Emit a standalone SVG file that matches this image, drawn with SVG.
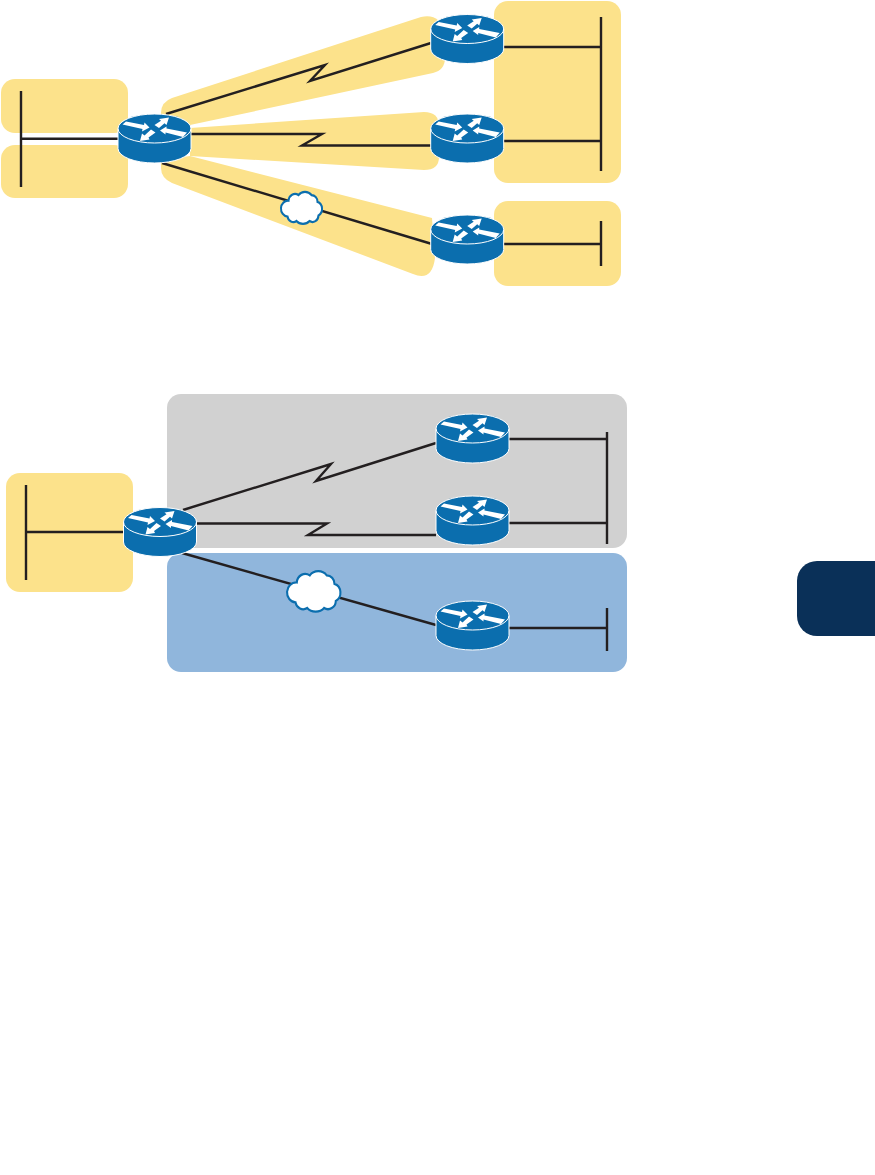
<svg xmlns="http://www.w3.org/2000/svg" width="875" height="1175" viewBox="0 0 875 1175">
<style>
.y{fill:#fce28b}
.l{fill:none;stroke:#231f20;stroke-width:2.400;stroke-linejoin:miter}
.c{fill:#fff;stroke:#0b6eae;stroke-width:2}
</style>
<defs>
<g id="router">
<path d="M0,14.500 A36.500,14.500 0 0 1 73,14.500 V34.500 A36.500,14.500 0 0 1 0,34.500 Z" fill="#0b6eae" stroke="#fff" stroke-width="1"/>
<path d="M0,14.500 A36.500,14.500 0 0 0 73,14.500" fill="none" stroke="#fff" stroke-width="1"/>
<g fill="#fff">
<polygon points="4.500,10.500 8,7.500 26,11 26.500,8.500 31.500,13.500 24,17.500 24.500,15"/>
<polygon points="36.500,11 43,6.800 41,5 51,3.500 48.500,11 46.500,9.200 41,14"/>
<polygon points="42,16.500 48.500,12.500 48.500,14.500 69,18.500 65,23 47.500,18.500 47.500,20.500"/>
<polygon points="22,27 24,19.500 26.500,21.500 33,15.500 37.500,18.500 30.500,23.500 31.500,25.500"/>
</g>
</g>
<path id="cloud" d="M-14,-6 A6.500,6.500 0 0 1 -4,-11 A8,7 0 0 1 9,-11 A6,6 0 0 1 15,-5 A6.500,6.500 0 0 1 16,7 A6,6 0 0 1 7,12 A8,6 0 0 1 -6,12 A6,6 0 0 1 -15,8 A7,7 0 0 1 -14,-6 Z"/>
</defs>
<g id="areas-top">
<rect class="y" x="1" y="79" width="127" height="54" rx="14"/>
<rect class="y" x="1" y="145" width="127" height="53" rx="14"/>
<rect class="y" x="494" y="1" width="127" height="182" rx="14"/>
<rect class="y" x="494" y="201" width="127" height="85" rx="14"/>
<path class="y" d="M172,98 L421,17 Q440,13 444,32 L445,58 Q445,70 433,73 L190,125 L161,125 V113 Q161,102 172,98 Z"/>
<path class="y" d="M190,128 L424,112 Q439,112 439,126 V157 Q439,170 424,170 L190,156 Z"/>
<path class="y" d="M190,156 L432,218 L435,258 Q432,282 413,274 L172,183 Q161,178 161,168 V160 Z"/>
</g>
<g id="areas-bottom">
<rect x="167" y="394" width="460" height="154" rx="14" fill="#d1d1d1"/>
<rect x="167" y="553" width="460" height="119" rx="14" fill="#90b6dc"/>
<rect class="y" x="6" y="473" width="127" height="119" rx="14"/>
</g>
<path id="tab" d="M875,561 H817 A20,20 0 0 0 797,581 V616 A20,20 0 0 0 817,636 H875 Z" fill="#0a3058"/>
<g id="connectors">
<path class="l" d="M21,91 V187 M21,138.700 H118"/>
<path class="l" d="M166,114 L325,65 L310,81 L431,43"/>
<path class="l" d="M191,134 H322 L302,145.500 H431"/>
<path class="l" d="M162,163 L432,244"/>
<path class="l" d="M601,17 V171 M504,47 H601 M504,141 H601"/>
<path class="l" d="M601,221 V266 M504,244 H601"/>
<path class="l" d="M26,485 V580 M26,532 H124"/>
<path class="l" d="M183,510 L331,464 L316,481 L436,443"/>
<path class="l" d="M197,523.500 H327 L308,535 H436"/>
<path class="l" d="M182,553 L436,625"/>
<path class="l" d="M607,432 V544 M509,439 H607 M509,523 H607"/>
<path class="l" d="M607,608 V651 M509,628 H607"/>
</g>
<g id="cloud-top"><use href="#cloud" class="c" transform="translate(302.500,207.500) scale(1,1.130)"/></g>
<g id="cloud-bottom"><use href="#cloud" class="c" transform="translate(315,591) scale(1.300,1.420)" style="stroke-width:1.600"/></g>
<g id="router-t0"><use href="#router" x="118" y="114"/></g>
<g id="router-t1"><use href="#router" x="430.700" y="14.500"/></g>
<g id="router-t2"><use href="#router" x="430.700" y="114"/></g>
<g id="router-t3"><use href="#router" x="430.700" y="215"/></g>
<g id="router-b0"><use href="#router" x="123.500" y="507.500"/></g>
<g id="router-b1"><use href="#router" x="436" y="414"/></g>
<g id="router-b2"><use href="#router" x="436" y="496"/></g>
<g id="router-b3"><use href="#router" x="436" y="601"/></g>
</svg>
